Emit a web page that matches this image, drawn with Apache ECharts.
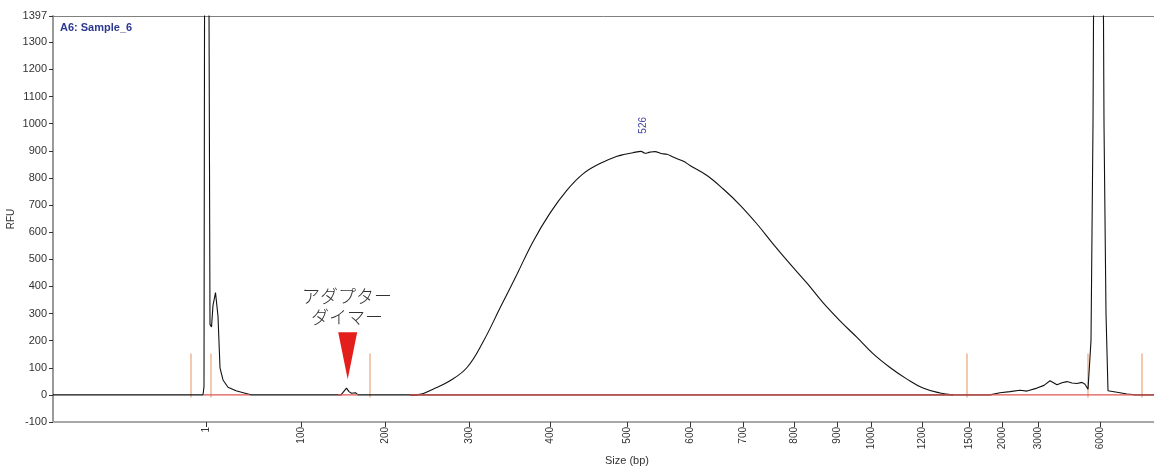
<!DOCTYPE html>
<html>
<head>
<meta charset="utf-8">
<script src="https://cdn.jsdelivr.net/npm/echarts@6/dist/echarts.min.js"></script>
<style>html,body{margin:0;padding:0;background:#fff}#c{width:1154px;height:468px}</style>
</head>
<body>
<div id="c"></div>
<script>
// ---- data (x = scan position units, y = RFU) ----
// sharp features: lower marker, primer peak, adapter dimer, upper region & upper marker
const scanPos = [0,150,151,152,155,157,158.5,160,162.5,165,167,170,175,183,193,198,216,217,218,
  288,290,293.5,296,298.5,302.5,305,357,
  900,937,947,957,967,974,984,991,997,1004,1009,1014,1019,1024,1029,1032,1035,1038,1040,1042,1049,1051,1053,1055,1067,1074,1082,1101];
const rfu = [0,0,30,2600,2600,260,250,330,377,290,100,55,28,15,5,0,0,3,0,
  0,5,25,12,6,8,0,0,
  0,0,8,12,17,14,25,35,52,37,45,49,44,42,46,39,21,200,1000,2500,2500,1000,300,15,8,3,0,0];
// broad library peak (smooth)
const libPos = [357,367,380,397,414,430,447,464,480,497,514,530,547,564,572,580,588,592,597,602,608,614,620,630,637,
  654,670,687,704,720,737,754,770,787,804,820,837,854,870,887,900];
const libRfu = [0,2,21,52,101,195,320,445,565,670,755,815,853,880,887,893,898,891,895,897,890,887,877,862,846,
  809,760,700,630,557,483,412,340,273,212,152,101,58,25,7,0];

const sizeTickPos    = [153,248,332,416,497,574,637,690,741,784,818,869,916,949,985,1047];
const sizeTickLabels = ['1','100','200','300','400','500','600','700','800','900','1000','1200','1500','2000','3000','6000'];
const rfuTicks = [-100,0,100,200,300,400,500,600,700,800,900,1000,1100,1200,1300,1397];

const ladderMarkerPos = [138,158,317,914,1035,1089];
const ladderMarkerRange = [-10,153];
const baselineSegments = [[150,197],[285,305],[357,1101]];

const peakLabel = {pos:590, rfu:994, text:'526'};
const dimerMark = {pos:294.7, rfu:144};
const dimerText = {pos:294, rfu:327, text:'アダプター\nダイマー'};
const sampleName = 'A6: Sample_6';

// ---- build ----
const trace = scanPos.map((p,i)=>[p, rfu[i]]);
const libTrace = libPos.map((p,i)=>[p, libRfu[i]]);
const markerData = [];
ladderMarkerPos.forEach(p=>{ markerData.push([p,ladderMarkerRange[0]],[p,ladderMarkerRange[1]],[p,null]); });
const baseData = [];
baselineSegments.forEach(s=>{ baseData.push([s[0],0],[s[1],0],[s[1],null]); });

const font = 'Liberation Sans, DejaVu Sans, sans-serif';
const chart = echarts.init(document.getElementById('c'), null, {renderer:'canvas'});
chart.setOption({
  animation:false,
  backgroundColor:'#fff',
  title:{text:sampleName,left:55,top:17,textStyle:{fontSize:11,fontWeight:'bold',color:'#2b3990',fontFamily:font}},
  grid:{left:53,right:0,top:16,bottom:46,containLabel:false,outerBoundsMode:'none'},
  xAxis:[{
    type:'value',min:0,max:1101,position:'bottom',
    name:'Size (bp)',nameLocation:'middle',nameGap:33,nameMoveOverlap:false,
    nameTextStyle:{fontSize:11,color:'#333',fontFamily:font,padding:[0,0,0,47]},
    axisLine:{show:true,onZero:false,lineStyle:{color:'#a8a8a8',width:2}},
    axisTick:{show:true,length:5,customValues:sizeTickPos,lineStyle:{color:'#333',width:1}},
    axisLabel:{show:true,customValues:sizeTickPos,rotate:90,margin:5,fontSize:10,color:'#333',fontFamily:font,
      formatter:v=>{const i=sizeTickPos.indexOf(v);return i>=0?sizeTickLabels[i]:'';}},
    splitLine:{show:false}
  },{
    type:'value',min:0,max:1101,position:'top',
    axisLine:{show:true,onZero:false,lineStyle:{color:'#808080',width:1}},
    axisTick:{show:false},axisLabel:{show:false},splitLine:{show:false}
  }],
  yAxis:{
    type:'value',min:-100,max:1397,
    name:'RFU',nameLocation:'middle',nameGap:37,nameRotate:90,nameMoveOverlap:false,
    nameTextStyle:{fontSize:10,color:'#333',fontFamily:font},
    axisLine:{show:true,onZero:false,lineStyle:{color:'#9a9a9a',width:2}},
    axisTick:{show:true,length:4,customValues:rfuTicks,lineStyle:{color:'#333'}},
    axisLabel:{customValues:rfuTicks,margin:6,fontSize:11,color:'#333',fontFamily:font,formatter:v=>String(v)},
    splitLine:{show:false}
  },
  series:[
    {type:'line',data:trace,showSymbol:false,symbol:'none',clip:true,z:3,
      lineStyle:{color:'#111',width:1.1},
      markPoint:{
        silent:true,
        data:[
          {coord:[dimerMark.pos,dimerMark.rfu],symbol:'triangle',symbolSize:[19,47],symbolRotate:180,
            itemStyle:{color:'#e41e1a'},label:{show:false}},
          {coord:[dimerText.pos,dimerText.rfu],symbol:'circle',symbolSize:0,
            label:{show:true,position:'inside',formatter:dimerText.text,fontSize:18,lineHeight:21,
              color:'#333',fontFamily:'Noto Sans CJK JP',fontWeight:300,align:'center'}},
          {coord:[peakLabel.pos,peakLabel.rfu],symbol:'circle',symbolSize:0,
            label:{show:true,position:'inside',formatter:peakLabel.text,rotate:90,fontSize:10,
              color:'#4046a8',fontFamily:font}}
        ]
      }
    },
    {type:'line',data:libTrace,showSymbol:false,symbol:'none',clip:true,z:3,smooth:0.4,
      lineStyle:{color:'#111',width:1.1}},
    {type:'line',data:baseData,showSymbol:false,symbol:'none',connectNulls:false,z:4,
      lineStyle:{color:'#e05555',width:1.2}},
    {type:'line',data:markerData,showSymbol:false,symbol:'none',connectNulls:false,z:2,
      lineStyle:{color:'#eba47c',width:1.2}}
  ]
});
</script>
</body>
</html>
